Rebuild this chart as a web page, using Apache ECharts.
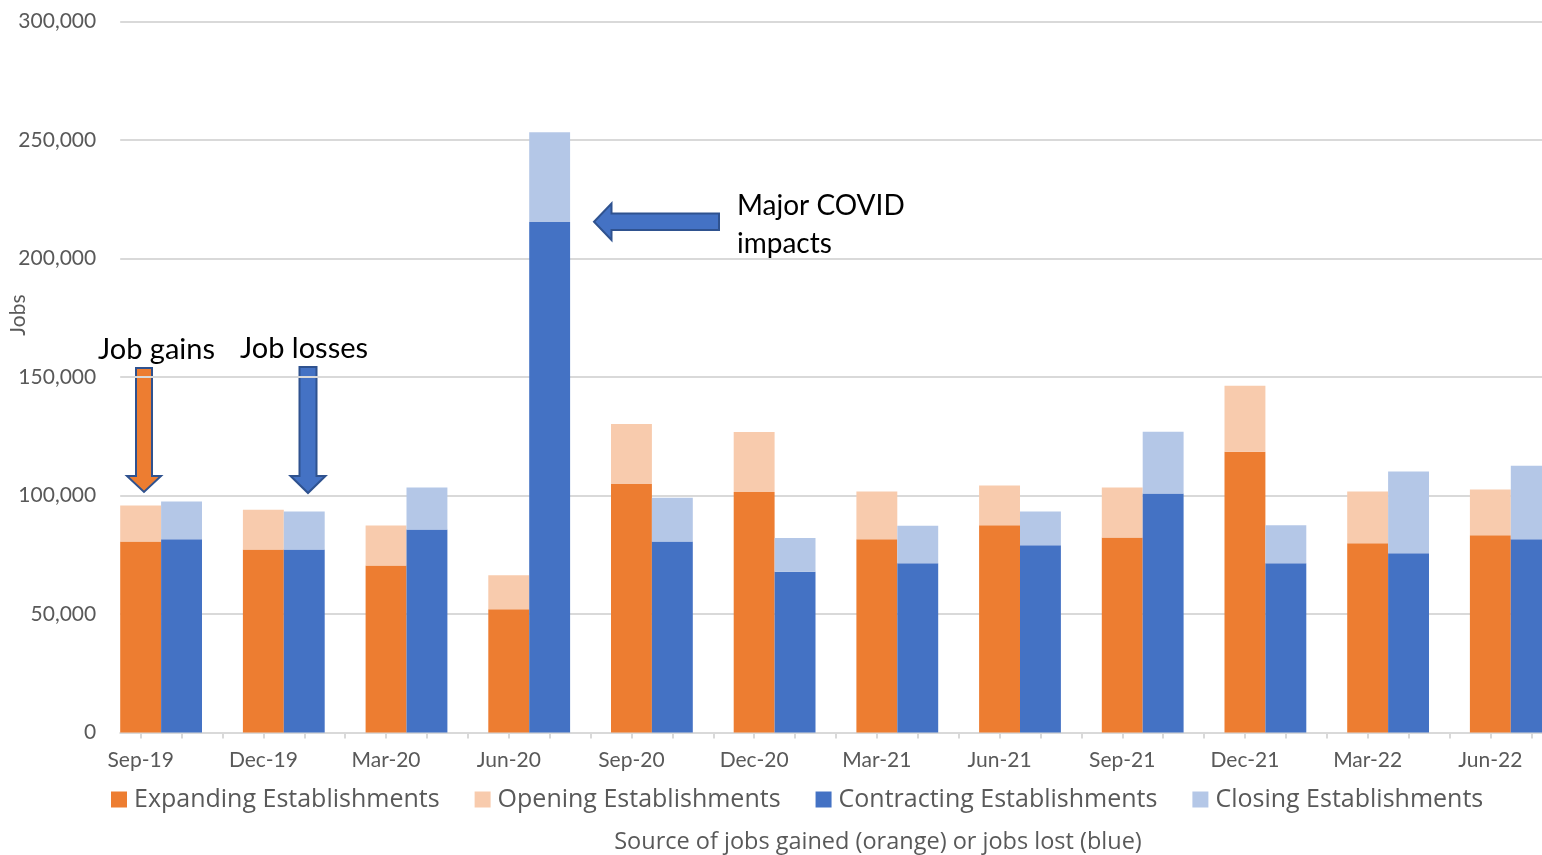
<!DOCTYPE html>
<html><head><meta charset="utf-8">
<script src="https://cdn.jsdelivr.net/npm/echarts@6/dist/echarts.min.js"></script>
<style>html,body{margin:0;padding:0;background:#fff}#c{width:1542px;height:855px}</style>
</head><body><div id="c"></div>
<script>
const months = ['Sep-19','Oct-19','Nov-19','Dec-19','Jan-20','Feb-20','Mar-20','Apr-20','May-20','Jun-20','Jul-20','Aug-20',
  'Sep-20','Oct-20','Nov-20','Dec-20','Jan-21','Feb-21','Mar-21','Apr-21','May-21','Jun-21','Jul-21','Aug-21',
  'Sep-21','Oct-21','Nov-21','Dec-21','Jan-22','Feb-22','Mar-22','Apr-22','May-22','Jun-22','Jul-22'];
const quarters = ['Sep-19','Dec-19','Mar-20','Jun-20','Sep-20','Dec-20','Mar-21','Jun-21','Sep-21','Dec-21','Mar-22','Jun-22'];
const expanding   = [80600, 77200, 70500, 52000, 104900, 101500, 81500, 87400, 82300, 118500, 79800, 83200];
const opening     = [15200, 16800, 16800, 14300, 25300, 25300, 20200, 16800, 21100, 27800, 21900, 19300];
const contracting = [81500, 77200, 85700, 215400, 80600, 67800, 71400, 79000, 100800, 71400, 75600, 81500];
const closing     = [16000, 16000, 17700, 37900, 18500, 14300, 15800, 14300, 26100, 16000, 34500, 31100];
const yTicks = [0, 50000, 100000, 150000, 200000, 250000, 300000];

function place(vals, shift) {
  const out = months.map(() => null);
  quarters.forEach((q, k) => { out[months.indexOf(q) + shift] = vals[k]; });
  return out;
}

const FONT = 'Lato';
const FONT2 = '"Open Sans"';
const GRAY = '#595959';
const LINE = '#d9d9d9';
const chart = echarts.init(document.getElementById('c'), null, {renderer: 'canvas'});

function bar(name, vals, shift, stack, color) {
  return {
    name, type: 'bar', stack, data: place(vals, shift),
    barCategoryGap: '0%', barGap: '-100%',
    itemStyle: {color}, emphasis: {disabled: true}
  };
}

chart.setOption({
  animation: false,
  textStyle: {fontFamily: FONT},
  grid: {left: 120.2, width: 1431.5, top: 21.5, bottom: 122.5, containLabel: false, outerBoundsMode: 'none'},
  legend: {
    left: 106, top: 782, itemWidth: 16, itemHeight: 16, itemGap: 35, icon: 'rect',
    textStyle: {fontFamily: 'Open Sans', fontSize: 25, color: GRAY, padding: [0, 0, 0, 2]},
    data: ['Expanding Establishments', 'Opening Establishments', 'Contracting Establishments', 'Closing Establishments']
  },
  xAxis: {
    type: 'category', data: months, boundaryGap: true,
    axisLine: {lineStyle: {color: LINE, width: 2}},
    axisTick: {show: true, alignWithLabel: true, interval: 0, length: 6, lineStyle: {color: LINE, width: 2}},
    axisLabel: {interval: 2, color: GRAY, fontSize: 21, fontFamily: FONT, margin: 17}
  },
  yAxis: {
    type: 'value', min: yTicks[0], max: yTicks[yTicks.length - 1], interval: yTicks[1] - yTicks[0],
    axisLine: {show: false}, axisTick: {show: false},
    splitLine: {lineStyle: {color: LINE, width: 2}},
    axisLabel: {color: GRAY, fontSize: 21, fontFamily: FONT, margin: 24,
      formatter: v => v.toLocaleString('en-US')}
  },
  series: [
    bar('Expanding Establishments', expanding, 0, 'gain', '#ED7D31'),
    bar('Opening Establishments', opening, 0, 'gain', '#F8CBAD'),
    bar('Contracting Establishments', contracting, 1, 'loss', '#4472C4'),
    bar('Closing Establishments', closing, 1, 'loss', '#B4C7E7')
  ],
  graphic: [
    {type: 'text', x: 18, y: 315, rotation: Math.PI / 2,
      style: {text: 'Jobs', fill: GRAY, font: '21px ' + FONT, align: 'center', verticalAlign: 'middle',
        textAlign: 'center', textVerticalAlign: 'middle'}},
    {type: 'text', x: 878, y: 842,
      style: {text: 'Source of jobs gained (orange) or jobs lost (blue)', fill: GRAY, font: '23.5px ' + FONT2,
        align: 'center', verticalAlign: 'middle', textAlign: 'center', textVerticalAlign: 'middle'}},
    {type: 'text', left: 98, top: 335,
      style: {text: 'Job gains', fill: '#000', font: '29px ' + FONT}},
    {type: 'text', left: 240, top: 334,
      style: {text: 'Job losses', fill: '#000', font: '29px ' + FONT}},
    {type: 'text', left: 737, top: 187,
      style: {text: 'Major COVID\nimpacts', fill: '#000', font: '28px ' + FONT, lineHeight: 38}},
    {type: 'polygon', shape: {points: [[136, 368], [152, 368], [152, 476], [161, 476], [144, 492], [127, 476], [136, 476]]},
      style: {fill: '#ED7D31', stroke: '#2F528F', lineWidth: 2}},
    {type: 'polygon', shape: {points: [[299.5, 367], [316.5, 367], [316.5, 476], [325.5, 476], [308, 493], [290.5, 476], [299.5, 476]]},
      style: {fill: '#4472C4', stroke: '#2F528F', lineWidth: 2}},
    {type: 'polygon', shape: {points: [[719, 213.5], [719, 230], [611.5, 230], [611.5, 240], [594, 221.7], [611.5, 203.5], [611.5, 213.5]]},
      style: {fill: '#4472C4', stroke: '#2F528F', lineWidth: 2}}
  ]
});
</script></body></html>
